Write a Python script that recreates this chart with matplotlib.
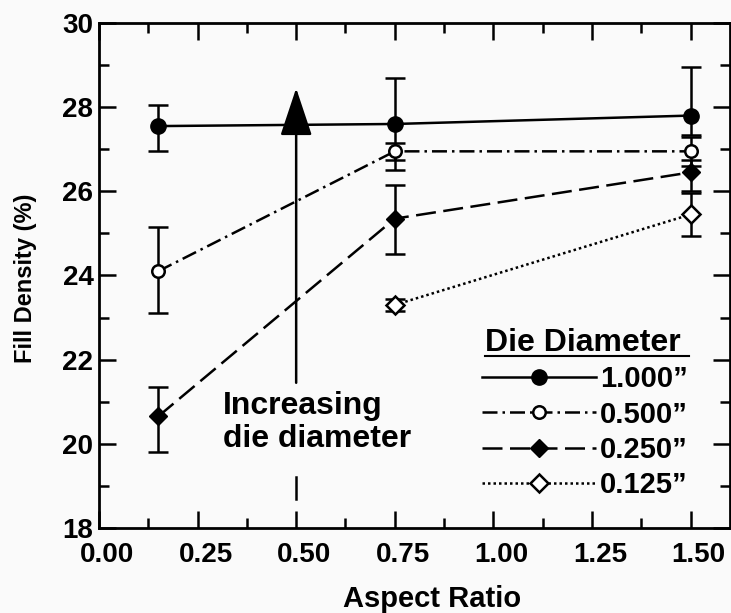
import matplotlib
matplotlib.use("Agg")
import matplotlib.pyplot as plt
import matplotlib.transforms as mtransforms
from matplotlib.lines import Line2D
from matplotlib.ticker import MultipleLocator

plt.rcParams['font.family'] = ['Liberation Sans', 'DejaVu Sans']
plt.rcParams['font.weight'] = 'bold'
plt.rcParams['axes.labelweight'] = 'bold'

# data
x3 = [0.15, 0.75, 1.50]
x2 = [0.75, 1.50]

d1000 = [27.55, 27.60, 27.80]
d1000_lo = [0.60, 1.10, 0.45]
d1000_hi = [0.50, 1.10, 1.15]

d500 = [24.10, 26.95, 26.95]
d500_lo = [1.00, 0.20, 0.35]
d500_hi = [1.05, 0.20, 0.35]

d250 = [20.65, 25.35, 26.45]
d250_lo = [0.85, 0.85, 0.45]
d250_hi = [0.70, 0.80, 0.30]

d125 = [23.30, 25.45]
d125_lo = [0.15, 0.50]
d125_hi = [0.15, 0.50]

labels = ['1.000\u201d', '0.500\u201d', '0.250\u201d', '0.125\u201d']

arrow_x = 0.50
arrow_y = [21.45, 28.45]
arrow_tail = [18.7, 19.2]

bg = '#fafafa'
fig = plt.figure(figsize=(7.31, 6.13), dpi=100, facecolor=bg)
ax = fig.add_axes([0.1354, 0.1387, 0.8632, 0.8238])
ax.set_facecolor(bg)

lw = 1.8
ebkw = dict(color='black', elinewidth=1.8, capsize=7, capthick=1.8)

ax.errorbar(x3, d1000, yerr=[d1000_lo, d1000_hi], fmt='o', ls='-', lw=lw,
            ms=11, mfc='black', mec='black', **ebkw)
ax.errorbar(x3, d500, yerr=[d500_lo, d500_hi], fmt='o', ls=(0, (6, 2, 1, 2)), lw=lw,
            ms=9, mfc='white', mec='black', mew=1.8, **ebkw)
ax.errorbar(x3, d250, yerr=[d250_lo, d250_hi], fmt='D', ls=(0, (8, 3)), lw=lw,
            ms=9, mfc='black', mec='black', **ebkw)
ax.errorbar(x2, d125, yerr=[d125_lo, d125_hi], fmt='D', ls=(0, (1, 1.2)), lw=lw,
            ms=9, mfc='white', mec='black', mew=1.8, **ebkw)

# "increasing die diameter" arrow
ax.annotate('', xy=(arrow_x, arrow_y[1]), xytext=(arrow_x, arrow_y[0]),
            arrowprops=dict(arrowstyle='-|>,head_length=1.5,head_width=0.5',
                            mutation_scale=20, color='black', lw=1.8,
                            shrinkA=0, shrinkB=0))
ax.plot([arrow_x, arrow_x], arrow_tail, color='black', lw=1.8)
ax.text(0.315, 21.25, 'Increasing\ndie diameter', fontsize=23, va='top', ha='left',
        linespacing=1.12)

ax.set_xlim(0, 1.60)
ax.set_ylim(18, 30)
ax.xaxis.set_major_locator(MultipleLocator(0.25))
ax.xaxis.set_minor_locator(MultipleLocator(0.125))
ax.yaxis.set_major_locator(MultipleLocator(2))
ax.yaxis.set_minor_locator(MultipleLocator(1))
ax.xaxis.set_major_formatter(lambda v, p: f'{v:.2f}')
ax.tick_params(which='both', direction='in', top=True, right=True, width=1.8)
ax.tick_params(which='major', length=12, labelsize=20)
ax.tick_params(which='minor', length=7)
ax.tick_params(axis='x', pad=10)
ax.tick_params(axis='y', pad=4)
for s in ax.spines.values():
    s.set_linewidth(2)

# x tick labels sit a little right of their ticks in the original
shift = mtransforms.ScaledTranslation(8 / 100, 0, fig.dpi_scale_trans)
for lab in ax.xaxis.get_majorticklabels():
    lab.set_transform(lab.get_transform() + shift)

ax.set_xlabel('Aspect Ratio', fontsize=21)
ax.xaxis.set_label_coords(0.528, -0.112)
ax.set_ylabel('Fill Density (%)', fontsize=17)
ax.yaxis.set_label_coords(-0.099, 0.494)

handles = [
    Line2D([], [], color='black', lw=lw, marker='o', ms=11),
    Line2D([], [], color='black', lw=lw, ls=(0, (6, 2, 1, 2)), marker='o', ms=9,
           mfc='white', mew=1.8),
    Line2D([], [], color='black', lw=lw, ls=(0, (8, 3)), marker='D', ms=9),
    Line2D([], [], color='black', lw=lw, ls=(0, (1, 1.2)), marker='D', ms=9,
           mfc='white', mew=1.8),
]
ax.legend(handles, labels, loc='upper left', bbox_to_anchor=(0.607, 0.322),
          frameon=False, fontsize=21, handlelength=3.9, handletextpad=0.15,
          labelspacing=0.25, borderpad=0, borderaxespad=0)
ax.text(0.612, 0.337, 'Die Diameter', transform=ax.transAxes, fontsize=23,
        ha='left', va='bottom')
ax.plot([0.612, 0.935], [0.34, 0.34], transform=ax.transAxes, color='black',
        lw=1.5, clip_on=False)

fig.savefig('out.png', dpi=100, facecolor=bg)
